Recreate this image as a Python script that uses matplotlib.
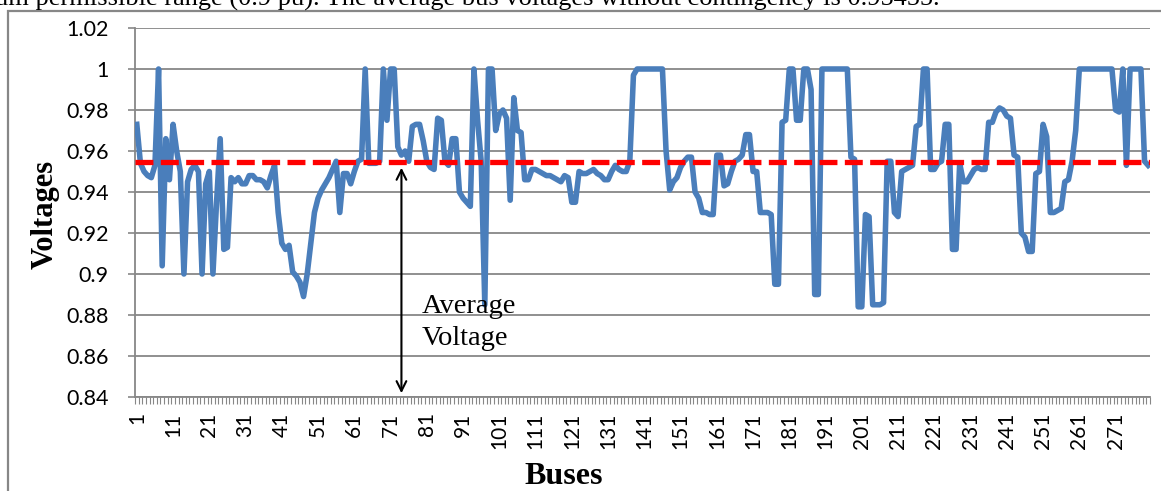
import numpy as np
import matplotlib.pyplot as plt
from matplotlib.patches import Rectangle

# bus voltages (pu), buses 1..280
voltages = [
    0.973, 0.954, 0.950, 0.948, 0.947, 0.953, 1.000, 0.904, 0.966, 0.946,
    0.973, 0.960, 0.950, 0.900, 0.945, 0.951, 0.953, 0.950, 0.900, 0.944,
    0.950, 0.900, 0.935, 0.966, 0.912, 0.913, 0.947, 0.945, 0.947, 0.944,
    0.944, 0.948, 0.948, 0.946, 0.946, 0.945, 0.942, 0.948, 0.953, 0.930,
    0.915, 0.912, 0.914, 0.901, 0.899, 0.896, 0.889, 0.900, 0.915, 0.930,
    0.937, 0.941, 0.944, 0.947, 0.951, 0.955, 0.930, 0.949, 0.949, 0.944,
    0.950, 0.955, 0.956, 1.000, 0.954, 0.954, 0.954, 0.955, 1.000, 0.975,
    1.000, 1.000, 0.962, 0.958, 0.960, 0.955, 0.972, 0.973, 0.973, 0.965,
    0.955, 0.952, 0.951, 0.976, 0.975, 0.955, 0.953, 0.966, 0.966, 0.940,
    0.937, 0.935, 0.933, 1.000, 0.975, 0.955, 0.885, 1.000, 1.000, 0.970,
    0.978, 0.980, 0.976, 0.936, 0.986, 0.970, 0.969, 0.946, 0.946, 0.951,
    0.951, 0.950, 0.949, 0.948, 0.948, 0.947, 0.946, 0.945, 0.948, 0.947,
    0.935, 0.935, 0.950, 0.949, 0.949, 0.950, 0.951, 0.949, 0.948, 0.946,
    0.946, 0.950, 0.953, 0.951, 0.950, 0.950, 0.955, 0.997, 1.000, 1.000,
    1.000, 1.000, 1.000, 1.000, 1.000, 1.000, 0.960, 0.941, 0.945, 0.947,
    0.952, 0.955, 0.957, 0.957, 0.940, 0.937, 0.930, 0.930, 0.929, 0.929,
    0.958, 0.958, 0.943, 0.944, 0.950, 0.955, 0.956, 0.958, 0.968, 0.968,
    0.950, 0.950, 0.930, 0.930, 0.930, 0.929, 0.895, 0.895, 0.974, 0.975,
    1.000, 1.000, 0.975, 0.975, 1.000, 1.000, 0.990, 0.890, 0.890, 1.000,
    1.000, 1.000, 1.000, 1.000, 1.000, 1.000, 1.000, 0.957, 0.956, 0.884,
    0.884, 0.929, 0.928, 0.885, 0.885, 0.885, 0.886, 0.955, 0.955, 0.930,
    0.928, 0.950, 0.951, 0.952, 0.953, 0.972, 0.973, 1.000, 1.000, 0.951,
    0.951, 0.954, 0.955, 0.973, 0.973, 0.912, 0.912, 0.954, 0.945, 0.945,
    0.948, 0.951, 0.952, 0.951, 0.951, 0.974, 0.974, 0.979, 0.981, 0.980,
    0.977, 0.976, 0.958, 0.957, 0.920, 0.918, 0.911, 0.911, 0.949, 0.950,
    0.973, 0.967, 0.930, 0.930, 0.931, 0.932, 0.945, 0.946, 0.955, 0.970,
    1.000, 1.000, 1.000, 1.000, 1.000, 1.000, 1.000, 1.000, 1.000, 1.000,
    0.980, 0.979, 1.000, 0.953, 1.000, 1.000, 1.000, 1.000, 0.955, 0.953,
]
buses = np.arange(1, len(voltages) + 1)
avg_voltage = 0.95455
arrow_bus = 74
yticks = [0.84, 0.86, 0.88, 0.9, 0.92, 0.94, 0.96, 0.98, 1.0, 1.02]
ytick_labels = ['0.84', '0.86', '0.88', '0.9', '0.92', '0.94', '0.96', '0.98', '1', '1.02']
xtick_buses = list(range(1, 281, 10))

W, H = 1161, 491
fig = plt.figure(figsize=(W / 100, H / 100), dpi=100)
ax = fig.add_axes([135 / W, 1 - 397 / H, 1015 / W, 369 / H])

gray = '#878787'

# chart frame and the cut off line of page text above it
fig.patches.append(Rectangle((8 / W, -0.1), 1.2, 1 - 11 / H + 0.1, transform=fig.transFigure,
                             fill=False, edgecolor=gray, lw=1.6))
fig.text(-5 / W, 1 - 6 / H,
         'um permissible range (0.9 pu). The average bus voltages without contingency is 0.95455.',
         family='Liberation Serif', fontsize=19, va='baseline', ha='left')

ax.plot(buses, voltages, color='#4A7EBB', lw=4.0, solid_joinstyle='round', zorder=3)
ax.axhline(avg_voltage, color='#FF0000', lw=3.8, ls=(0, (3.4, 1.4)), zorder=4)

ax.annotate('', xy=(arrow_bus, 0.8405), xytext=(arrow_bus, 0.9532),
            arrowprops=dict(arrowstyle='<->,head_length=0.7,head_width=0.35', color='black', lw=1.5),
            zorder=5)
ax.text(arrow_bus + 5.5, 0.881, 'Average', family='Liberation Serif', fontsize=20.5, va='baseline')
ax.text(arrow_bus + 5.5, 0.8655, 'Voltage', family='Liberation Serif', fontsize=20.5, va='baseline')

ax.set_xlim(0.5, len(voltages) + 0.5)
ax.set_ylim(0.84, 1.02)
ax.set_yticks(yticks)
ax.set_yticklabels(ytick_labels, family='Lato', fontsize=15.5)
ax.set_xticks(xtick_buses)
ax.set_xticklabels([str(b) for b in xtick_buses], family='Lato', fontsize=15, rotation=90)
ax.set_xticks(np.arange(0.5, len(voltages) + 1, 1), minor=True)
ax.tick_params(axis='x', which='major', length=0, pad=11)
ax.tick_params(axis='x', which='minor', length=5, width=0.8, color=gray)
ax.tick_params(axis='y', length=5, width=1.2, color=gray, pad=14)

ax.grid(axis='y', color=gray, lw=1.3)
ax.set_axisbelow(True)
for side in ['top', 'right']:
    ax.spines[side].set_visible(False)
for side in ['left', 'bottom']:
    ax.spines[side].set_color(gray)
    ax.spines[side].set_linewidth(1.3)

fig.text(564 / W, 1 - 476 / H, 'Buses', family='Liberation Serif', weight='bold',
         fontsize=23, ha='center', va='center')
fig.text(45 / W, 1 - 214 / H, 'Voltages', family='Liberation Serif', weight='bold',
         fontsize=22, ha='center', va='center', rotation=90)

fig.savefig('out.png', dpi=100)
